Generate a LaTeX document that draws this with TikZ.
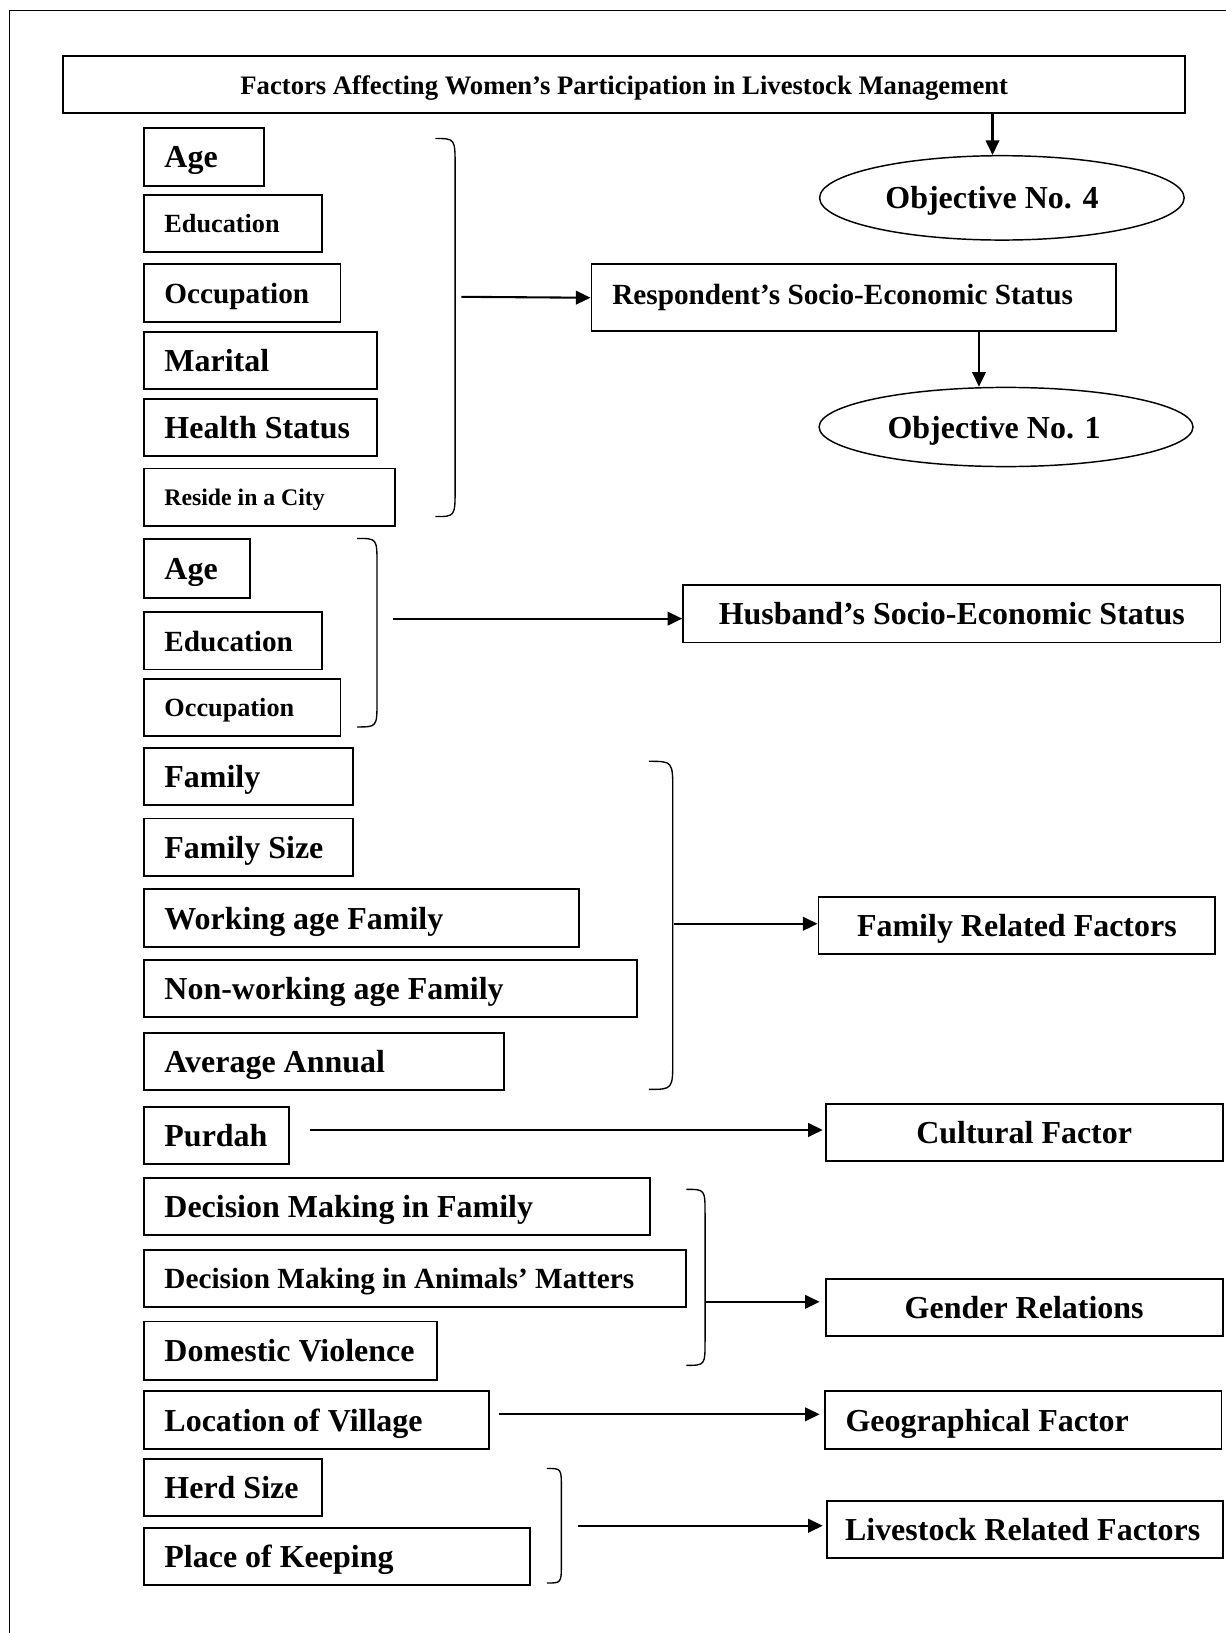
\documentclass[tikz,border=0pt]{standalone}
\usepackage{fontspec}
\setmainfont{Liberation Serif}
\usepackage{tikz}
\usetikzlibrary{arrows.meta,shapes.geometric}
\newcommand{\fsz}[1]{\fontsize{#1}{#1}\selectfont\bfseries\hyphenpenalty=10000 }
\tikzset{
  frame/.style={draw=black, line width=1.5pt},
  box/.style={draw=black, line width=1.8pt, rectangle, inner sep=0pt, text depth=0pt, anchor=north west,
    execute at begin node={\spaceskip=0pt\xspaceskip=0pt}},
  cbox/.style={draw=black, line width=1.8pt, rectangle, inner sep=0pt, text depth=0pt, anchor=north west, align=center},
  oval/.style={draw=black, line width=1.4pt, ellipse, inner sep=0pt, text depth=0pt},
  arr/.style={draw=black, line width=2pt, -{Triangle[length=14pt, width=13pt]}},
  brace/.style={draw=black, line width=1.3pt},
  fA/.style={font=\fsz{30.7}},
  fB/.style={font=\fsz{28.1}},
  fC/.style={font=\fsz{25.2}},
  fD/.style={font=\fsz{22.8}},
  fT/.style={font=\fsz{25.6}}
}
\begin{document}
\begin{tikzpicture}[x=1pt, y=-1pt, line cap=butt, line join=miter]
  \useasboundingbox[fill=white] (0,0) rectangle (1177,1568);
  \draw[frame] (9,1570) -- (9,10) -- (1180,10);

  \node[cbox, fT, minimum width=1077pt, minimum height=55pt] (title) at (60,53) {Factors Affecting Women’s Participation in Livestock Management};

  \node[box, fA, minimum width=116pt, minimum height=56pt, text width=76pt] (rAge) at (137,122) {Age};
  \node[box, fC, minimum width=171pt, minimum height=55pt, text width=131pt] (rEdu) at (137,186) {Education};
  \node[box, fB, minimum width=189pt, minimum height=55pt, text width=149pt] (rOcc) at (137,253) {Occupation};
  \node[box, fA, minimum width=224pt, minimum height=55pt, text width=184pt] (rMar) at (137,318) {Marital};
  \node[box, fA, minimum width=224pt, minimum height=55pt, text width=184pt] (rHealth) at (137,382) {Health Status};
  \node[box, fD, minimum width=241pt, minimum height=55pt, text width=201pt] (rCity) at (137,449) {Reside in a City};

  \node[box, fA, minimum width=102pt, minimum height=56pt, text width=62pt] (hAge) at (137,517) {Age};
  \node[box, fB, minimum width=171pt, minimum height=55pt, text width=131pt] (hEdu) at (137,587) {Education};
  \node[box, fC, minimum width=189pt, minimum height=55pt, text width=149pt] (hOcc) at (137,651) {Occupation};

  \node[box, fA, minimum width=201pt, minimum height=55pt, text width=161pt] (fFam) at (137,717) {Family};
  \node[box, fA, minimum width=201pt, minimum height=55pt, text width=161pt] (fSize) at (137,785) {Family Size};
  \node[box, fA, minimum width=418pt, minimum height=55pt, text width=378pt] (fWork) at (137,853) {Working age Family};
  \node[box, fA, minimum width=474pt, minimum height=55pt, text width=434pt] (fNonWork) at (137,921) {Non-working age Family};
  \node[box, fA, minimum width=346pt, minimum height=55pt, text width=306pt] (fIncome) at (137,991) {Average Annual};

  \node[box, fA, minimum width=140pt, minimum height=55pt, text width=100pt] (cPurdah) at (137,1062) {Purdah};

  \node[box, fA, minimum width=486pt, minimum height=55pt, text width=446pt] (gFamily) at (137,1130) {Decision Making in Family};
  \node[box, fB, minimum width=521pt, minimum height=55pt, text width=481pt] (gAnimals) at (137,1199) {Decision Making in Animals’ Matters};
  \node[box, fA, minimum width=282pt, minimum height=56pt, text width=242pt] (gViolence) at (137,1268) {Domestic Violence};

  \node[box, fA, minimum width=332pt, minimum height=55pt, text width=292pt] (gLocation) at (137,1335) {Location of Village};

  \node[box, fA, minimum width=171pt, minimum height=55pt, text width=131pt] (lHerd) at (137,1400) {Herd Size};
  \node[box, fA, minimum width=371pt, minimum height=55pt, text width=331pt] (lPlace) at (137,1466) {Place of Keeping};

  \node[oval, fA, minimum width=350pt, minimum height=81pt] (obj4) at (962,190) {Objective No. 4\hspace*{19pt}};
  \node[box, fB, minimum width=504pt, minimum height=64pt, text width=464pt, text depth=7pt] (resp) at (567,253) {Respondent’s Socio-Economic Status};
  \node[oval, fA, minimum width=359pt, minimum height=76pt] (obj1) at (966,410) {Objective No. 1\hspace*{23pt}};
  \node[cbox, fA, minimum width=516pt, minimum height=55pt] (husb) at (655,561) {Husband’s Socio-Economic Status};
  \node[cbox, fA, minimum width=381pt, minimum height=55pt] (famRel) at (785,860) {Family Related Factors};
  \node[cbox, fA, minimum width=381pt, minimum height=55pt] (cult) at (792,1059) {Cultural Factor};
  \node[cbox, fA, minimum width=381pt, minimum height=55pt] (gend) at (792,1227) {Gender Relations};
  \node[box, fA, minimum width=381pt, minimum height=55pt, text width=341pt] (geo) at (791,1335) {Geographical Factor};
  \node[box, fA, minimum width=380pt, minimum height=55pt, text width=345pt] (live) at (793,1440) {Livestock Related Factors};

  \draw[brace] (418,133) .. controls (437,133) .. (437,160) -- (437,469) .. controls (437,496) .. (418,496);
  \draw[brace] (343,517) .. controls (362,517) .. (362,542) -- (362,673) .. controls (362,698) .. (343,698);
  \draw[brace] (623,731) .. controls (646,731) .. (646,760) -- (646,1017) .. controls (646,1046) .. (623,1046);
  \draw[brace] (659,1142) .. controls (677,1142) .. (677,1166) -- (677,1287) .. controls (677,1311) .. (659,1311);
  \draw[brace] (525,1410) .. controls (539,1410) .. (539,1428) -- (539,1502) .. controls (539,1520) .. (525,1520);

  \coordinate (bRes) at (443,285);
  \coordinate (bHus) at (377,594);
  \coordinate (bFam) at (647,887);
  \coordinate (bGen) at (677,1250);
  \coordinate (bLiv) at (555,1465);

  \draw[arr] (title.south -| 953,0) -- (obj4.north -| 953,0);
  \draw[arr] (resp.south -| 940,0) -- (obj1.north -| 940,0);
  \draw[arr] (bRes) -- (resp.west);
  \draw[arr] (bHus) -- (bHus -| husb.west);
  \draw[arr] (bFam) -- (bFam -| famRel.west);
  \draw[arr, shorten >=2pt] ([xshift=19pt]cPurdah.east |- 0,1085) -- (cult.west |- 0,1085);
  \draw[arr, shorten >=5pt] (bGen) -- (bGen -| gend.west);
  \draw[arr, shorten >=4pt] ([xshift=8pt]gLocation.east |- 0,1358) -- (geo.west |- 0,1358);
  \draw[arr, shorten >=3pt] (bLiv) -- (bLiv -| live.west);
\end{tikzpicture}
\end{document}
